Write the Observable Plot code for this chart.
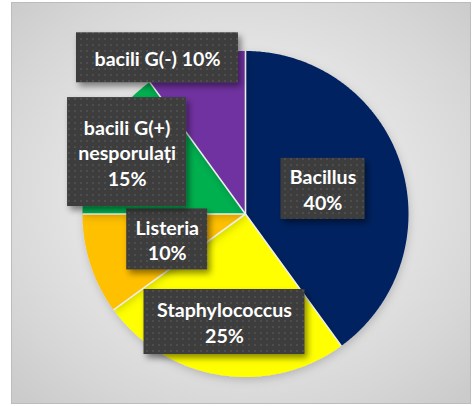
<!DOCTYPE html>
<html>
<head>
<meta charset="utf-8">
<script src="https://cdn.jsdelivr.net/npm/d3@7"></script>
<script src="https://cdn.jsdelivr.net/npm/@observablehq/plot@0.6"></script>
<style>
  html, body { margin: 0; padding: 0; background: #ffffff; }
  #wrap { position: relative; width: 476px; height: 406px; overflow: hidden; }
  #frame {
    position: absolute; left: 11px; top: 2px; width: 460px; height: 402px;
    box-sizing: border-box; border: 1px solid #bcbcbc;
    background: radial-gradient(ellipse 70% 70% at 50% 48%, #efefef 0%, #e6e6e6 45%, #d6d6d6 80%, #cbcbcb 100%);
  }
  #chart { position: absolute; left: 0; top: 0; }
</style>
</head>
<body>
<div id="wrap"><div id="frame"></div><div id="chart"></div></div>
<script>
// Distribution of isolated bacteria (percent of isolates)
const categories = ["Bacillus", "Staphylococcus", "Listeria", "bacili G(+) nesporulați", "bacili G(-)"];
const shares = [40, 25, 10, 15, 10];
const sliceColors = ["#002060", "#FFFF00", "#FFC000", "#00B050", "#7030A0"];

// Data label layout: radius (fraction of pie radius), angular nudge (degrees),
// box size in pixels and how the name and value are joined
const labelRadius = [0.50, 0.675, 0.505, 0.82, 1.10];
const labelTurn = [0, 2, 0, 0.6, -11.4];
const boxWidth = [84, 161, 81, 119, 162];
const boxHeight = [61, 65, 61, 109, 50];
const nameBreak = [null, null, null, " nesporulați", null];
const valueJoin = ["\n", "\n", "\n", "\n", " "];

// Pie geometry in pixels
const W = 476, H = 406;
const cx = 245, cy = 213.5, R = 163;

const total = d3.sum(shares);
const toRad = Math.PI / 180;
let acc = 0;
const slices = categories.map((name, i) => {
  const a0 = acc / total * 360;
  acc += shares[i];
  const a1 = acc / total * 360;
  return { name, value: shares[i], color: sliceColors[i], a0, a1, i };
});

// Polygon outline for each slice: centre, then along the arc (clockwise from 12 o'clock)
const slicePoints = slices.map(s => {
  const n = Math.max(2, Math.ceil((s.a1 - s.a0) / 0.5));
  const pts = [{ x: 0, y: 0 }];
  for (let k = 0; k <= n; ++k) {
    const a = (s.a0 + (s.a1 - s.a0) * k / n) * toRad;
    pts.push({ x: Math.sin(a), y: Math.cos(a) });
  }
  pts.push({ x: 0, y: 0 });
  return pts;
});

const boundaries = slices.map(s => ({ a: s.a0 * toRad }));

const labels = slices.map(s => {
  const mid = ((s.a0 + s.a1) / 2 + labelTurn[s.i]) * toRad;
  const r = labelRadius[s.i];
  const x = r * Math.sin(mid), y = r * Math.cos(mid);
  const hw = boxWidth[s.i] / 2 / R, hh = boxHeight[s.i] / 2 / R;
  let name = s.name;
  if (nameBreak[s.i]) name = name.replace(nameBreak[s.i], "\n" + nameBreak[s.i].trim());
  return {
    x, y, x1: x - hw, x2: x + hw, y1: y - hh, y2: y + hh,
    text: name + valueJoin[s.i] + s.value + "%"
  };
});

const chart = Plot.plot({
  width: W,
  height: H,
  marginLeft: cx - R,
  marginRight: W - (cx + R),
  marginTop: cy - R,
  marginBottom: H - (cy + R),
  style: { background: "transparent", overflow: "visible" },
  x: { domain: [-1, 1], axis: null },
  y: { domain: [-1, 1], axis: null },
  marks: [
    ...slicePoints.map((pts, i) =>
      Plot.line(pts, { x: "x", y: "y", fill: sliceColors[i], stroke: "none" })
    ),
    Plot.link(boundaries, {
      x1: 0, y1: 0,
      x2: d => Math.sin(d.a), y2: d => Math.cos(d.a),
      stroke: "#eeeeee", strokeWidth: 1.6
    }),
    Plot.rect(labels, { x1: "x1", x2: "x2", y1: "y1", y2: "y2", fill: "#404040" }),
    Plot.text(labels, {
      x: "x", y: "y", text: "text",
      fill: "#ffffff", fontSize: 19.6, fontWeight: "bold",
      fontFamily: "Lato, 'Open Sans', sans-serif", lineHeight: 1.3
    })
  ]
});

document.getElementById("chart").appendChild(chart);

// Textured label boxes with a soft shadow, and a faint shadow under the pie
const svg = d3.select(chart);
const defs = svg.insert("defs", ":first-child");
const pat = defs.append("pattern")
  .attr("id", "dots").attr("patternUnits", "userSpaceOnUse")
  .attr("width", 6).attr("height", 6);
pat.append("rect").attr("width", 6).attr("height", 6).attr("fill", "#3e3e3e");
pat.append("rect").attr("x", 2).attr("y", 2).attr("width", 2).attr("height", 2).attr("fill", "#4e4e4e");
defs.append("filter").attr("id", "boxShadow")
  .attr("x", "-20%").attr("y", "-20%").attr("width", "150%").attr("height", "150%")
  .append("feDropShadow").attr("dx", 3).attr("dy", 4).attr("stdDeviation", 3)
  .attr("flood-color", "#000").attr("flood-opacity", 0.45);
defs.append("filter").attr("id", "pieShadow")
  .attr("x", "-10%").attr("y", "-10%").attr("width", "120%").attr("height", "125%")
  .append("feDropShadow").attr("dx", 1).attr("dy", 3).attr("stdDeviation", 4)
  .attr("flood-color", "#000").attr("flood-opacity", 0.18);

svg.selectAll('g[aria-label="rect"] rect')
  .attr("fill", "url(#dots)")
  .attr("filter", "url(#boxShadow)");
svg.selectAll('g[aria-label="line"]')
  .attr("filter", "url(#pieShadow)");
</script>
</body>
</html>
